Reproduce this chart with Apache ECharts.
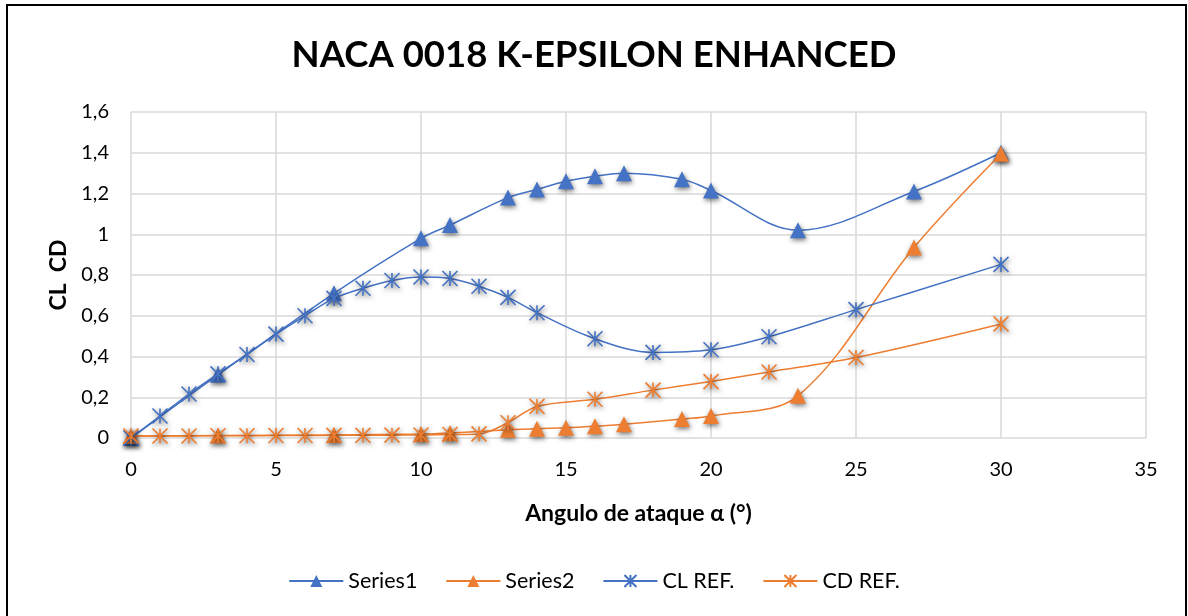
<!DOCTYPE html>
<html>
<head>
<meta charset="utf-8">
<script src="https://cdn.jsdelivr.net/npm/echarts@6/dist/echarts.min.js"></script>
<style>
  html, body { margin: 0; padding: 0; background: #fff; }
  #chart { width: 1188px; height: 616px; }
</style>
</head>
<body>
<div id="chart"></div>
<script>
// Angle of attack (degrees) and coefficient values per series
const series1X = [0, 3, 7, 10, 11, 13, 14, 15, 16, 17, 19, 20, 23, 27, 30];
const series1Y = [0.0, 0.31, 0.71, 0.98, 1.045, 1.18, 1.22, 1.26, 1.285, 1.30, 1.27, 1.215, 1.02, 1.21, 1.40];

const series2X = [0, 3, 7, 10, 11, 13, 14, 15, 16, 17, 19, 20, 23, 27, 30];
const series2Y = [0.01, 0.012, 0.015, 0.02, 0.025, 0.04, 0.046, 0.05, 0.058, 0.068, 0.093, 0.108, 0.207, 0.935, 1.395];

const clRefX = [0, 1, 2, 3, 4, 5, 6, 7, 8, 9, 10, 11, 12, 13, 14, 16, 18, 20, 22, 25, 30];
const clRefY = [0.0, 0.108, 0.216, 0.315, 0.41, 0.51, 0.60, 0.685, 0.735, 0.773, 0.79, 0.783, 0.745, 0.69, 0.615, 0.487, 0.42, 0.433, 0.497, 0.63, 0.852];

const cdRefX = [0, 1, 2, 3, 4, 5, 6, 7, 8, 9, 10, 11, 12, 13, 14, 16, 18, 20, 22, 25, 30];
const cdRefY = [0.01, 0.01, 0.01, 0.011, 0.011, 0.012, 0.012, 0.013, 0.013, 0.014, 0.015, 0.017, 0.02, 0.075, 0.155, 0.19, 0.235, 0.277, 0.324, 0.395, 0.56];

const seriesNames = ['Series1', 'Series2', 'CL REF.', 'CD REF.'];
const xTicks = { min: 0, max: 35, interval: 5 };
const yTicks = { min: 0, max: 1.6, interval: 0.2 };

const BLUE = '#4472C4';
const ORANGE = '#ED7D31';
const FONT = 'Lato, "Open Sans", sans-serif';
const ASTERISK = 'path://M0,-7L0,7M-7,-7L7,7M-7,7L7,-7';

const pair = (xs, ys) => xs.map((x, i) => [x, ys[i]]);

const markerShadow = {
  shadowColor: 'rgba(0,0,0,0.55)',
  shadowBlur: 5,
  shadowOffsetX: 1,
  shadowOffsetY: 2
};

function triSeries(name, color, data) {
  return {
    name, type: 'line', data, smooth: 0.35,
    symbol: 'triangle', symbolSize: 16,
    color,
    lineStyle: { color, width: 1.5 },
    itemStyle: Object.assign({ color }, markerShadow),
    z: 2
  };
}

function starSeries(name, color, data) {
  return {
    name, type: 'line', data, smooth: 0.35,
    symbol: ASTERISK, symbolSize: 15,
    color,
    lineStyle: { color, width: 1.5 },
    itemStyle: Object.assign({ color: 'rgba(0,0,0,0)', borderColor: color, borderWidth: 1.6 }, markerShadow),
    z: 3
  };
}

const chart = echarts.init(document.getElementById('chart'), null, { renderer: 'canvas' });

chart.setOption({
  backgroundColor: '#fff',
  animation: false,
  title: {
    text: 'NACA 0018 K-EPSILON ENHANCED',
    left: 'center', top: 32,
    textStyle: { fontFamily: FONT, fontWeight: 'bold', fontSize: 36.5, color: '#000' }
  },
  graphic: [{
    type: 'rect',
    shape: { x: 7, y: 5, width: 1179, height: 620 },
    style: { fill: 'none', stroke: '#000', lineWidth: 2 },
    silent: true
  }],
  legend: {
    data: seriesNames,
    top: 565, left: 'center',
    itemWidth: 54, itemHeight: 15, itemGap: 28,
    textStyle: { fontFamily: FONT, fontSize: 21.5, color: '#000' }
  },
  grid: { left: 131, right: 42, top: 112, bottom: 178 },
  xAxis: {
    type: 'value',
    min: xTicks.min, max: xTicks.max, interval: xTicks.interval,
    name: 'Angulo de ataque α (°)',
    nameLocation: 'middle', nameGap: 64,
    nameTextStyle: { fontFamily: FONT, fontWeight: 'bold', fontSize: 23, color: '#000' },
    axisLine: { show: false },
    axisTick: { show: false },
    axisLabel: { fontFamily: FONT, fontSize: 20, color: '#000', margin: 22 },
    splitLine: { show: true, lineStyle: { color: '#d9d9d9', width: 1.5 } }
  },
  yAxis: {
    type: 'value',
    min: yTicks.min, max: yTicks.max, interval: yTicks.interval,
    name: 'CL  CD',
    nameLocation: 'middle', nameGap: 61, nameRotate: 90,
    nameTextStyle: { fontFamily: FONT, fontWeight: 'bold', fontSize: 23, color: '#000' },
    axisLine: { show: false },
    axisTick: { show: false },
    axisLabel: {
      fontFamily: FONT, fontSize: 20, color: '#000', margin: 22,
      formatter: v => String(Math.round(v * 10) / 10).replace('.', ',')
    },
    splitLine: { show: true, lineStyle: { color: '#d9d9d9', width: 1.5 } }
  },
  series: [
    triSeries(seriesNames[0], BLUE, pair(series1X, series1Y)),
    triSeries(seriesNames[1], ORANGE, pair(series2X, series2Y)),
    starSeries(seriesNames[2], BLUE, pair(clRefX, clRefY)),
    starSeries(seriesNames[3], ORANGE, pair(cdRefX, cdRefY))
  ]
});
</script>
</body>
</html>
